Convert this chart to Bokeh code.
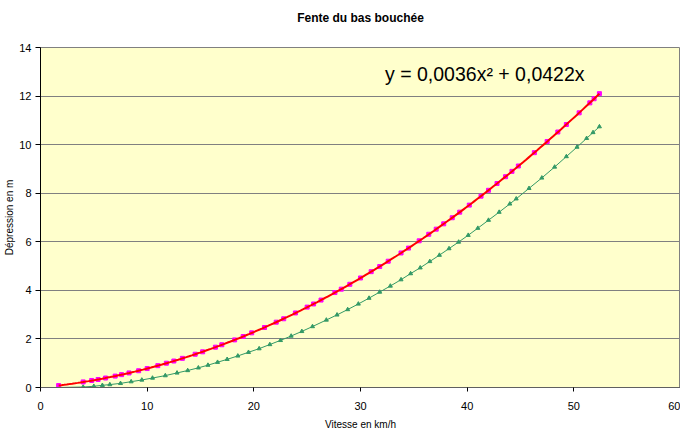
import numpy as np
from bokeh.plotting import figure
from bokeh.models import Range1d, Label, FixedTicker, LinearAxis
from bokeh.embed import file_html
from bokeh.resources import INLINE

title_text = "Fente du bas bouchée"
x_label = "Vitesse en km/h"
y_label = "Dépression en m"
equation = "y = 0,0036x² + 0,0422x"

# Série 1 (magenta squares, fitted by the red polynomial trendline)
red_x = [1.7, 4.0, 4.8, 5.4, 6.1, 7.0, 7.6, 8.3, 9.2, 10.0, 11.0, 11.8, 12.5, 13.3,
         14.5, 15.2, 16.4, 17.0, 18.2, 19.0, 19.8, 21.0, 22.1, 22.8, 23.9, 25.0,
         25.6, 26.3, 27.6, 28.2, 29.0, 30.0, 31.0, 31.8, 32.6, 33.8, 34.5, 35.5,
         36.4, 37.1, 37.8, 38.6, 39.3, 40.2, 41.3, 42.0, 42.8, 43.6, 44.2, 44.8,
         46.3, 47.5, 48.5, 49.3, 50.5, 51.5, 51.9, 52.4]
red_y = [0.08, 0.23, 0.29, 0.33, 0.39, 0.47, 0.53, 0.60, 0.69, 0.78, 0.90, 1.00, 1.09, 1.20,
         1.37, 1.47, 1.66, 1.76, 1.96, 2.10, 2.25, 2.47, 2.69, 2.83, 3.07, 3.31,
         3.44, 3.60, 3.91, 4.05, 4.25, 4.51, 4.77, 4.98, 5.20, 5.54, 5.74, 6.04,
         6.31, 6.52, 6.74, 6.99, 7.22, 7.51, 7.88, 8.12, 8.40, 8.68, 8.90, 9.12,
         9.67, 10.13, 10.52, 10.83, 11.31, 11.72, 11.89, 12.10]

# Série 2 (green triangles with thin line)
green_x = [1.7, 4.0, 5.0, 5.8, 6.5, 7.5, 8.5, 9.5, 10.5, 11.7, 12.8, 13.8, 14.8, 15.7,
           16.6, 17.5, 18.5, 19.5, 20.5, 21.5, 22.5, 23.5, 24.5, 25.5, 26.8, 27.8,
           28.8, 29.8, 30.8, 31.8, 32.8, 33.8, 34.7, 35.6, 36.5, 37.4, 38.3, 39.2,
           40.1, 41.0, 42.0, 43.0, 44.0, 44.6, 45.8, 47.0, 48.2, 49.3, 50.3, 51.2,
           51.8, 52.4]
green_y = [0.00, 0.02, 0.05, 0.09, 0.12, 0.17, 0.24, 0.31, 0.39, 0.49, 0.60, 0.70, 0.81, 0.92,
           1.04, 1.16, 1.30, 1.45, 1.60, 1.77, 1.94, 2.12, 2.31, 2.51, 2.78, 2.99,
           3.21, 3.44, 3.68, 3.93, 4.18, 4.44, 4.69, 4.93, 5.19, 5.45, 5.72, 5.99,
           6.27, 6.56, 6.89, 7.22, 7.56, 7.77, 8.20, 8.63, 9.08, 9.51, 9.90, 10.26,
           10.50, 10.74]

trend_coef = [0.0036, 0.0422, 0.0]  # x^2, x, const (as displayed)

x_ticks = [0, 10, 20, 30, 40, 50, 60]
y_ticks = [0, 2, 4, 6, 8, 10, 12, 14]

FONT = "Liberation Sans"

p = figure(width=680, height=432, output_backend="svg", toolbar_location=None, title=None,
           x_range=Range1d(0, 60), y_range=Range1d(0, 14),
           min_border_left=40, min_border_right=0, min_border_top=47, min_border_bottom=38)
p.background_fill_color = "#FFFFCC"
p.border_fill_color = "white"
p.outline_line_color = "#808080"
p.outline_line_width = 1

# chart title drawn as the label of a bare axis above the plot area
top_axis = LinearAxis(ticker=FixedTicker(ticks=[]), axis_label=title_text,
                      axis_line_color=None, major_tick_line_color=None,
                      minor_tick_line_color=None, major_tick_out=0, major_tick_in=0,
                      minor_tick_out=0, major_label_standoff=0,
                      major_label_text_font_size="0px", axis_label_standoff=23,
                      axis_label_text_font=FONT, axis_label_text_font_size="12px",
                      axis_label_text_font_style="bold", axis_label_text_color="black")
p.add_layout(top_axis, "above")

p.xgrid.visible = False
p.ygrid.grid_line_color = "#808080"
p.ygrid.grid_line_width = 1
p.ygrid.ticker = FixedTicker(ticks=y_ticks)

xax = p.below[0]
yax = p.left[0]
xax.ticker = FixedTicker(ticks=x_ticks)
yax.ticker = FixedTicker(ticks=y_ticks)
for ax in (xax, yax):
    ax.major_label_text_font = FONT
    ax.major_label_text_font_size = "11px"
    ax.major_label_text_color = "black"
    ax.axis_label_text_font = FONT
    ax.axis_label_text_font_size = "10px"
    ax.axis_label_text_font_style = "normal"
    ax.axis_label_text_color = "black"
    ax.minor_tick_line_color = None
    ax.major_tick_in = 0
    ax.major_tick_line_color = "black"
xax.axis_label = x_label
yax.axis_label = y_label
xax.axis_line_color = "#606060"
xax.major_tick_out = 4
xax.major_label_standoff = 10
xax.axis_label_standoff = 6
yax.axis_line_color = "black"
yax.major_tick_out = 5
yax.major_label_standoff = 4
yax.axis_label_standoff = 1

# green series
p.line(green_x, green_y, line_color="#339966", line_width=1)
p.scatter(green_x, green_y, marker="triangle", size=4, fill_color="#339966",
          line_color="#339966")

# magenta series
p.scatter(red_x, red_y, marker="square", size=4, fill_color="#FF00FF", line_color="#FF00FF")

# trendline from displayed coefficients over the data range
tx = np.linspace(min(red_x), max(red_x), 200)
ty = np.polyval(trend_coef, tx)
p.line(tx, ty, line_color="#FF0000", line_width=2)

p.add_layout(Label(x=32.3, y=12.9, text=equation, text_font=FONT, text_font_size="19.5px",
                   text_baseline="middle", text_color="black"))

open("out.html", "w").write(file_html(p, INLINE))
